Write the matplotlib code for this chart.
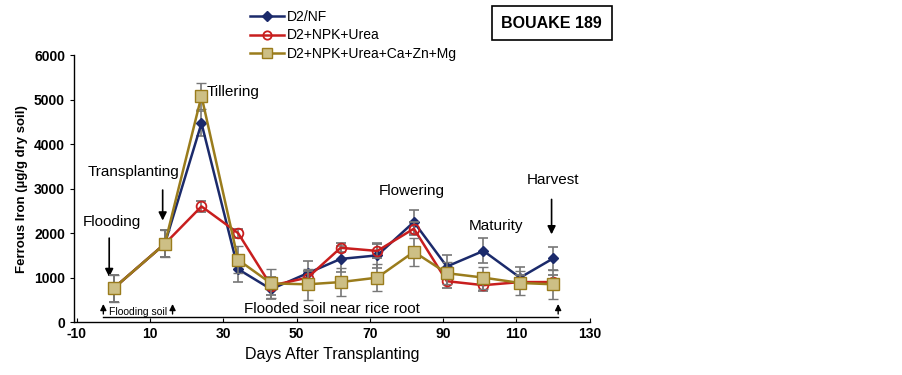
import numpy as np
import matplotlib
matplotlib.use("Agg")
import matplotlib.pyplot as plt
from matplotlib.lines import Line2D

plt.rcParams["font.family"] = ["Liberation Sans", "DejaVu Sans"]
plt.rcParams["axes.unicode_minus"] = False

days = [0, 14, 24, 34, 43, 53, 62, 72, 82, 91, 101, 111, 120]

nf_vals = [760, 1760, 4470, 1190, 740, 1100, 1420, 1500, 2250, 1250, 1600, 1000, 1430]
nf_err = [300, 300, 280, 280, 220, 280, 300, 280, 280, 250, 280, 250, 260]

npk_vals = [760, 1760, 2600, 2000, 820, 1000, 1670, 1600, 2100, 920, 830, 900, 900]
npk_err = [300, 300, 120, 100, 200, 150, 100, 150, 150, 150, 120, 150, 150]

full_vals = [760, 1760, 5080, 1400, 870, 850, 900, 1000, 1580, 1100, 1000, 880, 850]
full_err = [300, 300, 300, 300, 320, 350, 320, 300, 320, 250, 250, 280, 330]

labels = ["D2/NF", "D2+NPK+Urea", "D2+NPK+Urea+Ca+Zn+Mg"]
y_ticks = [0, 1000, 2000, 3000, 4000, 5000, 6000]
x_ticks = [-10, 10, 30, 50, 70, 90, 110, 130]

BLUE = "#1b2a6b"
RED = "#c81e1e"
TAN = "#9a7c1c"
TAN_FACE = "#cdbf85"

fig = plt.figure(figsize=(9.03, 3.75), dpi=100)
ax = fig.add_axes([0.082, 0.141, 0.571, 0.712])

err_kw = dict(ecolor="#777777", elinewidth=1.2, capsize=3.5, capthick=1.2)
ax.errorbar(days, nf_vals, yerr=nf_err, color=BLUE, lw=1.8, marker="D", ms=5,
            mfc=BLUE, mec=BLUE, zorder=3, **err_kw)
ax.errorbar(days, npk_vals, yerr=npk_err, color=RED, lw=1.8, marker="o", ms=7,
            mfc="none", mec=RED, mew=1.3, zorder=4, **err_kw)
ax.errorbar(days, full_vals, yerr=full_err, color=TAN, lw=1.8, marker="s", ms=8,
            mfc=TAN_FACE, mec=TAN, mew=1.0, zorder=5, **err_kw)

ax.set_xlim(-10.8, 130)
ax.set_ylim(0, 6000)
ax.set_xticks(x_ticks)
ax.set_yticks(y_ticks)
for s in ["top", "right"]:
    ax.spines[s].set_visible(False)
ax.spines["left"].set_linewidth(1.0)
ax.spines["bottom"].set_linewidth(1.0)
ax.tick_params(axis="both", labelsize=10, length=3, direction="out")
ax.tick_params(axis="x", direction="in", length=3)
for t in ax.get_xticklabels() + ax.get_yticklabels():
    t.set_fontweight("bold")

ax.set_xlabel("Days After Transplanting", fontsize=11.5)
ax.set_ylabel("Ferrous Iron (µg/g dry soil)", fontsize=9.5, fontweight="bold")

# stage annotations
arrow = dict(arrowstyle="-|>", color="black", lw=1.2, mutation_scale=12)
ax.text(-0.5, 2250, "Flooding", fontsize=11, ha="center", va="center")
ax.annotate("", xy=(-1.2, 950), xytext=(-1.2, 1950), arrowprops=arrow)
ax.text(5.5, 3380, "Transplanting", fontsize=11, ha="center", va="center")
ax.annotate("", xy=(13.4, 2220), xytext=(13.4, 3030), arrowprops=arrow)
ax.text(25.5, 5170, "Tillering", fontsize=11, ha="left", va="center")
ax.text(81.5, 2950, "Flowering", fontsize=11, ha="center", va="center")
ax.text(104.5, 2170, "Maturity", fontsize=11, ha="center", va="center")
ax.text(120, 3200, "Harvest", fontsize=11, ha="center", va="center")
ax.annotate("", xy=(119.6, 1910), xytext=(119.6, 2820), arrowprops=arrow)

# bottom bracket
ax.plot([-2.8, 121.4], [120, 120], color="black", lw=1.0)
small_arrow = dict(arrowstyle="-|>", color="black", lw=1.0, mutation_scale=9)
for xb in [-2.8, 16.1, 121.4]:
    ax.annotate("", xy=(xb, 470), xytext=(xb, 120), arrowprops=small_arrow)
ax.text(6.6, 220, "Flooding soil", fontsize=7.5, ha="center", va="center")
ax.text(59.5, 290, "Flooded soil near rice root", fontsize=11, ha="center", va="center")

handles = [
    Line2D([], [], color=BLUE, lw=1.8, marker="D", ms=5, mfc=BLUE, mec=BLUE),
    Line2D([], [], color=RED, lw=1.8, marker="o", ms=6, mfc="none", mec=RED, mew=1.3),
    Line2D([], [], color=TAN, lw=1.8, marker="s", ms=7, mfc=TAN_FACE, mec=TAN),
]
fig.legend(handles=handles, labels=labels, loc="upper left",
           bbox_to_anchor=(0.268, 0.995), frameon=False, fontsize=10,
           handlelength=2.4, labelspacing=0.3, borderaxespad=0.2, handletextpad=0.2)

fig.text(0.611, 0.938, "BOUAKE 189", fontsize=11.5, fontweight="bold", ha="center", va="center",
         bbox=dict(boxstyle="square,pad=0.6", fc="white", ec="black", lw=1.2))

fig.savefig("out.png", dpi=100)
